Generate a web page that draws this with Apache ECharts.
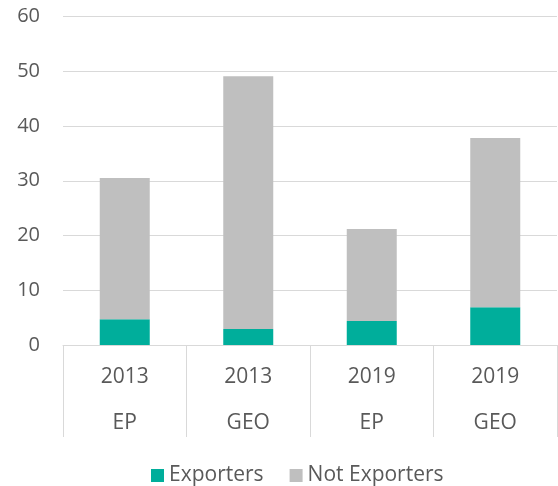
<!DOCTYPE html>
<html>
<head>
<meta charset="utf-8">
<script src="https://cdn.jsdelivr.net/npm/echarts@6/dist/echarts.min.js"></script>
<style>
  html, body { margin: 0; padding: 0; background: #fff; }
  #chart { width: 558px; height: 486px; }
</style>
</head>
<body>
<div id="chart"></div>
<script>
const years = ['2013', '2013', '2019', '2019'];
const groups = ['EP', 'GEO', 'EP', 'GEO'];
const exporters = [4.7, 2.9, 4.4, 6.9];
const notExporters = [25.8, 46.2, 16.8, 30.9];
const yTicks = { min: 0, max: 60, interval: 10 };

const chart = echarts.init(document.getElementById('chart'));
const textColor = '#595959';
const lineColor = '#d9d9d9';
const font = 'Open Sans';

chart.setOption({
  animation: false,
  textStyle: { fontFamily: font, color: textColor },
  grid: { left: 63, right: 1, top: 16.5, bottom: 141 },
  legend: {
    left: 151,
    top: 465,
    padding: 0,
    icon: 'rect',
    itemWidth: 13,
    itemHeight: 13,
    itemGap: 26,
    textStyle: { fontFamily: font, fontSize: 21, color: textColor },
    data: ['Exporters', 'Not Exporters']
  },
  xAxis: {
    type: 'category',
    data: years.map((y, i) => y + '\n' + groups[i]),
    axisLine: { show: true, lineStyle: { color: lineColor, width: 1 } },
    axisTick: { show: true, length: 92, lineStyle: { color: lineColor, width: 1 } },
    axisLabel: {
      fontFamily: font, fontSize: 21, color: textColor,
      lineHeight: 46, margin: 9, interval: 0
    }
  },
  yAxis: {
    type: 'value',
    min: yTicks.min, max: yTicks.max, interval: yTicks.interval,
    axisLine: { show: false },
    axisTick: { show: false },
    splitLine: { lineStyle: { color: lineColor, width: 1 } },
    axisLabel: { fontFamily: font, fontSize: 20, color: textColor, margin: 23 }
  },
  series: [
    {
      name: 'Exporters', type: 'bar', stack: 'total', barWidth: 50,
      itemStyle: { color: '#00AE9B' },
      data: exporters
    },
    {
      name: 'Not Exporters', type: 'bar', stack: 'total', barWidth: 50,
      itemStyle: { color: '#BFBFBF' },
      data: notExporters
    }
  ]
});
</script>
</body>
</html>
